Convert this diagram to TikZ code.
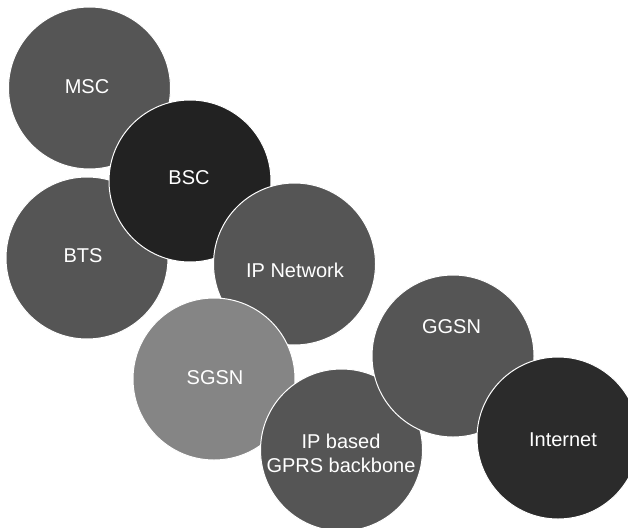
\documentclass[tikz,border=0pt]{standalone}
\usepackage{fontspec}
\setmainfont{Liberation Sans}
\definecolor{midgray}{HTML}{555555}
\definecolor{lightgray}{HTML}{858585}
\definecolor{nearblack}{HTML}{222222}
\definecolor{netblack}{HTML}{2B2B2B}
\begin{document}
\begin{tikzpicture}[x=1pt,y=-1pt,
  bubble/.style={circle, draw=white, line width=1pt, minimum size=162pt, inner sep=0pt},
  tag/.style={text=white, font=\fontsize{20}{24}\selectfont, align=center, inner sep=0pt}]
  \useasboundingbox (0,0) rectangle (628,527);
  \begin{scope}
    \clip (0,0) rectangle (628,527);
    % circles, back to front
    \node[bubble, fill=midgray]   (msc)  at (89.5,88)  {};
    \node[bubble, fill=midgray]   (bts)  at (87,258)   {};
    \node[bubble, fill=nearblack] (bsc)  at (190,181)  {};
    \node[bubble, fill=midgray]   (ipn)  at (294.5,264) {};
    \node[bubble, fill=lightgray] (sgsn) at (214,379)  {};
    \node[bubble, fill=midgray]   (ipb)  at (341.5,450) {};
    \node[bubble, fill=midgray]   (ggsn) at (453,356)  {};
    \node[bubble, fill=netblack]  (inet) at (558,438)  {};
  \end{scope}
  % labels
  \node[tag] (msc-t)  at (87,87)     {MSC};
  \node[tag] (bts-t)  at (83,256)    {BTS};
  \node[tag] (bsc-t)  at (189,178)   {BSC};
  \node[tag] (ipn-t)  at (295,270)   {IP Network};
  \node[tag] (sgsn-t) at (215,378)   {SGSN};
  \node[tag] (ipb-t)  at (341,453)   {IP based\\GPRS backbone};
  \node[tag] (ggsn-t) at (451.5,327) {GGSN};
  \node[tag] (inet-t) at (563,440)   {Internet};
\end{tikzpicture}
\end{document}
